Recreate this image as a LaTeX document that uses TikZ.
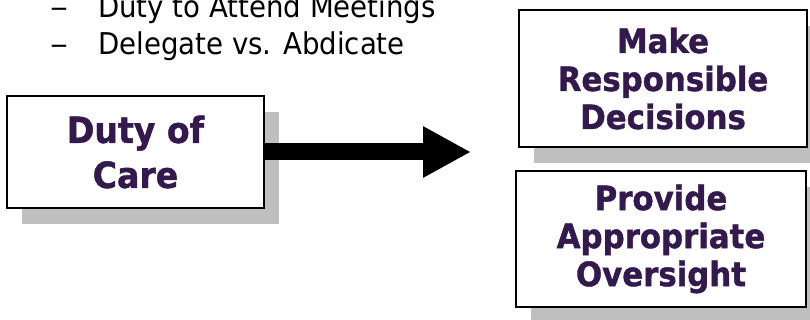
\documentclass[tikz,border=0pt]{standalone}
\usepackage{graphicx}
\usepackage{fontspec}
\setmainfont{DejaVu Sans}[FakeStretch=0.92, BoldFeatures={FakeBold=1.2}]
\usetikzlibrary{shadows,arrows.meta}
\definecolor{titlepurple}{HTML}{33194D}
\definecolor{shadowgray}{HTML}{BFBFBF}
\tikzset{
  card/.style={draw=black, line width=2pt, fill=white, inner sep=0pt,
    align=center, text=titlepurple,
    drop shadow={shadow xshift=15pt, shadow yshift=-16pt, fill=shadowgray, opacity=1}},
  bullet/.style={anchor=base west, inner sep=0pt, font=\fontsize{30}{35}\selectfont},
}
\newcommand{\listdash}{\scalebox{1.3}[1]{\textendash}}
\begin{document}
\begin{tikzpicture}[x=1pt,y=-1pt]
  \useasboundingbox (0,0) rectangle (810,320);
  % bullet list above the main box
  \node[bullet] (d1) at (50,18) {\listdash};
  \node[bullet] (t1) at (98,18) {Duty to Attend Meetings};
  \node[bullet] (d2) at (50,55) {\listdash};
  \node[bullet] (t2) at (98,55) {Delegate vs. Abdicate};
  % boxes
  \node[card, minimum width=257pt, minimum height=112pt,
        font=\fontsize{36}{45}\selectfont\bfseries] (care) at (135.5,152) {Duty of\\Care};
  \node[card, minimum width=288pt, minimum height=137pt,
        font=\fontsize{33.5}{38}\selectfont\bfseries] (decide) at (663,78.5) {Make\\Responsible\\Decisions};
  \node[card, minimum width=290pt, minimum height=136pt,
        font=\fontsize{33.5}{38}\selectfont\bfseries] (oversee) at (661,239) {Provide\\Appropriate\\Oversight};
  % arrow
  \coordinate (tip) at (471,152);
  \draw[line width=17pt, -{Triangle[length=48pt,width=48pt]}] (care.east) -- (tip);
\end{tikzpicture}
\end{document}
